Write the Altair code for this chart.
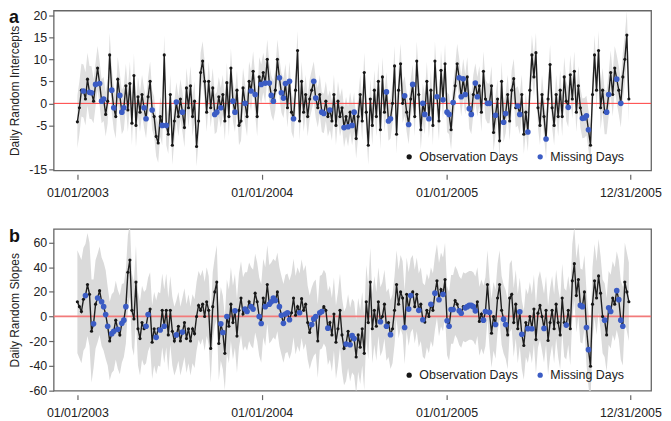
import altair as alt
import numpy as np
import pandas as pd

FONT = "Liberation Sans"
START = "2003-01-01"
STEP_DAYS = 4

# x-axis ticks (days since 01/01/2003) and their labels
tick_days = [0, 365, 731, 1095]
tick_labels = ["01/01/2003", "01/01/2004", "01/01/2005", "12/31/2005"]

# ---- panel a: daily random intercepts (one value every 4 days) ----
intercepts_p1 = [
    -4.2, -1.0, 3.0, 2.8, 1.0, 5.5, 2.5, 2.4, 0.5, 4.3,
    8.0, 4.5, 0.5, 1.0, -2.5, 0.5, 11.0, 3.0, -1.0, -3.0,
    5.5, 1.8, -2.0, -1.0, 4.0, -1.5, 4.5, -4.5, 6.3, -5.0,
    1.5, -2.0, 2.0, -1.0, -3.5, 1.5, 5.0, -1.5, -3.0, -7.5,
    -9.0, -3.0, -5.0, 11.0, -5.0, -7.0, 2.0, -9.5, -4.0, 0.3,
    -3.0, 1.0, -2.0, -5.5, 3.5, -1.0, 4.0, -3.0, 0.5, -9.8,
    -4.0, 7.0, 9.6, 5.0, -2.0, 5.0, -1.0, 3.5, -2.5, -2.0,
    1.5, -1.0, 2.0, -4.0, 4.7, -3.0, 8.0, 0.5, -2.0, 3.0,
    -5.0, -4.0, 3.5, 0.0, -3.0, 5.0, 2.8, 7.3, 2.0, -3.0,
]
intercepts_p2 = [
    6.0, 4.3, 7.0, 4.6, 10.0, 4.6, 1.8, 0.5, 3.0, 10.0,
    5.8, 2.4, 1.2, 4.5, -1.0, 5.0, -2.0, -3.5, 3.0, 12.0,
    -4.0, 5.0, -2.0, 2.0, -3.0, 1.0, 3.0, 5.0, 1.2, -1.0,
    2.0, -2.0, -2.3, 0.5, -3.0, -1.5, -4.0, 2.0, -5.0, 0.5,
    -3.0, -1.0, -5.5, -3.0, -5.3, -2.0, -5.0, -2.0, -8.0, -3.0,
    2.0, -4.0, 7.0, -2.0, -9.5, 1.0, -5.0, 3.0, -3.0, 5.0,
    -6.0, 6.0, -2.0, 2.6, -4.0, -3.5, 0.0, 8.5, -7.0, 3.0,
    9.0, 0.0, 1.7, -2.0, -4.8, 1.0, 4.3, -3.0, 9.6, 2.0,
    -6.0, 0.0, -2.5, 5.0, -3.5, 3.0, -5.0, 9.6, 1.5, -4.0,
]
intercepts_p3 = [
    7.5, 0.8, 9.0, -2.0, -2.5, -6.0, 0.2, 4.0, 9.0, 5.8,
    1.5, 5.6, 2.0, 6.0, -1.2, -2.5, 2.0, 4.6, 1.5, 4.0,
    -2.0, 7.3, 1.0, 0.0, 0.0, 4.0, -6.6, -2.7, 1.0, -8.5,
    5.0, -4.3, -2.3, 2.0, -4.0, 3.0, 5.6, -1.0, -0.6, -2.5,
    2.0, -7.0, -2.0, -6.5, 3.0, 11.0, 6.0, 11.5, -1.0, -5.0,
    2.0, -3.0, -8.1, 1.0, 8.8, -1.0, -5.0, 2.0, -3.0, 3.0,
    -3.0, 6.0, 0.5, -0.9, 6.5, 1.0, 7.3, -2.0, 4.0, -1.0,
    -3.4, -3.3, -2.8, -6.0, -9.5, 2.0, 11.0, 3.0, 12.0, -1.0,
    3.0, -2.0, -2.0, 2.0, 7.0, 2.0, 8.0, 5.5, 3.0, 0.0,
    6.0, 10.0, 15.5, 1.0,
]
intercept_missing = [
    3, 6, 7, 9, 11, 12, 13, 17, 18, 21, 22, 23, 33, 34, 37, 42, 44, 49, 52,
    68, 69, 71, 77, 78, 83, 86, 88, 91, 93, 95, 96, 97, 100, 101, 102, 103,
    105, 107, 117, 118, 121, 122, 125, 132, 134, 136, 137, 153, 154, 155,
    162, 164, 166, 171, 172, 174, 178, 181, 183, 184, 186, 189, 190, 191,
    192, 194, 195, 197, 198, 203, 204, 207, 211, 212, 218, 219, 223, 232,
    243, 250, 251, 252, 253, 262, 263, 267, 269,
]
# monthly half-width of the grey interval (Jan 2003 .. Dec 2005)
intercept_halfwidth = [
    6, 5, 5, 5, 4.5, 4.5, 4.5, 4.5, 4.5, 4.5, 4.5, 4.5,
    4.5, 4.5, 4.5, 4.5, 4.5, 4.5, 4.5, 4.5, 4.5, 4.5, 4.5, 4.5,
    4.5, 4.5, 4.5, 4.5, 4.5, 4.5, 4.5, 4.5, 4.5, 4.5, 5, 5.5,
]

# ---- panel b: daily random slopes ----
slopes_p1 = [
    12, 8, 4, 14, 17, 26, 18, -12, -6, 10,
    15, 21, 12, 8, 1.6, -8, -20, -14, -12, -3,
    -10.5, -15, -5.6, -3, 8, 36, 46, 5, -2, 28,
    -10, -18, -5, -10, -8, 1.6, 6, -21, -10, -17,
    -10, -11, 5, -8, 5, -15, 5, -12, -20, -15,
    -8, -20, -12.7, -5, -18, -10, -20, -10, -14, 0,
    9, 5, 10, 0, 12, 5, -26, 8, 20, 28,
    -22, -6, -13, -30, 0, -8, 10, -5, 4.6, -16,
    5, 15, 2, 6, 4, 12, 8, 6, 19, 12,
]
slopes_p2 = [
    0, -5.7, 15, 8, 26, 10, 12, 15, 13, 20,
    8, 1, -5.6, 2, 3, -2.7, 3, 15, 1, 8,
    3, 14.5, 5, 10, -5, -13, -6.5, -2, 0, -20,
    3, 4, 8, 5, -9.5, -5, -15, 2, -21, -10,
    5, -15, -26, -22.5, -12, -23, -15.6, -18, -33, -15,
    -25, -10, -30, 12, -5, 28, -10, 5, -8, 12,
    -4.3, 0, 10, -8, -5, -14.8, -10, 5, 26, 10,
    20, 15, -9, 18, 6, 17, 20, 8, 18, 5,
    10, -2.7, -4.6, 5, 0, 10, 5, 19, 29, 13.6,
]
slopes_p3 = [
    22, 18, 30, -3.5, -8, 5.7, 5.7, 13, 10, 4.7,
    2.6, 8, 7, 8, 9, 9, 8, 4.6, 12, -4,
    2, -3, 4, 26, 3.4, -13.7, 0, -6.5, 15, 26,
    5, -2.2, -6.5, -15, 15, 18, -5, 10, -10, 3.8,
    -14.5, -23.6, -5, -9.9, 0, -10, 6, -18.8, 2.7, 9,
    0, -9.7, 5, -19.6, -5, 5, -10, 10, -5, -15,
    15, -5, -7, 5, -10, 29, 43, 17, 30, 9,
    8, 20, -9, -27, -40.5, 10, 29, 15, 33, 19,
    0, -3, -15, 7, 4, 15, 10, 21, 13.7, -3,
    -8, 28, 20, 12,
]
slope_missing = [
    4, 8, 10, 12, 13, 14, 15, 17, 18, 20, 22, 23, 24, 34, 35, 39, 41, 43,
    49, 52, 71, 72, 74, 78, 83, 84, 86, 87, 90, 91, 93, 95, 96, 97, 98,
    100, 101, 102, 103, 104, 105, 110, 116, 117, 118, 120, 121, 124, 133,
    135, 136, 137, 150, 153, 155, 162, 164, 165, 169, 171, 175, 177, 179,
    181, 183, 184, 185, 186, 189, 190, 192, 193, 194, 195, 196, 197, 201,
    202, 204, 207, 211, 212, 219, 220, 223, 225, 231, 242, 249, 250, 252,
    253, 261, 263, 264, 267, 268, 269, 270,
]
slope_halfwidth = [
    42, 36, 32, 30, 30, 30, 28, 28, 28, 30, 30, 32,
    32, 32, 32, 30, 30, 30, 30, 28, 28, 30, 30, 30,
    28, 28, 28, 28, 28, 28, 28, 28, 30, 30, 30, 32,
]

STATUS = ["Observation Days", "Missing Days"]
COLORS = ["#161616", "#3b5cc4"]


def make_df(vals, missing, halfwidth):
    n = len(vals)
    days = np.arange(n) * STEP_DAYS
    dates = pd.Timestamp(START) + pd.to_timedelta(days, unit="D")
    month_idx = (dates.year - 2003) * 12 + dates.month - 1
    h = np.array(halfwidth, dtype=float)[month_idx]
    v = np.array(vals, dtype=float)
    is_missing = np.isin(np.arange(n), missing)
    return pd.DataFrame({
        "day": days,
        "value": v,
        "lower": v - h,
        "upper": v + h,
        "status": np.where(is_missing, STATUS[1], STATUS[0]),
        "z": is_missing.astype(int),
    })


x_label_expr = " : ".join(
    f"datum.value == {d} ? '{l}'" for d, l in zip(tick_days, tick_labels)
) + " : ''"


def panel(df, letter, title, ydomain, yvals, height, band_color, rule_color,
          rule_width, legend_y):
    yscale = alt.Scale(domain=ydomain, nice=False, zero=False)
    yaxis = alt.Axis(values=yvals, title=title, titlePadding=7,
                     labelExpr="'' + datum.value", labelPadding=2)
    xenc = alt.X("day:Q", scale=alt.Scale(domain=[-47, 1136], nice=False, zero=False),
                 axis=alt.Axis(values=tick_days, labelExpr=x_label_expr, title=None,
                               offset=4, labelPadding=7))
    base = alt.Chart(df)
    band = base.mark_area(color=band_color, clip=True).encode(
        x=xenc, y=alt.Y("lower:Q", scale=yscale, axis=yaxis), y2="upper:Q")
    zero = alt.Chart(pd.DataFrame({"y": [0]})).mark_rule(
        color=rule_color, strokeWidth=rule_width).encode(
        y=alt.Y("y:Q", scale=yscale, axis=yaxis))
    line = base.mark_line(color="#1e1e1e", strokeWidth=1.4, clip=True).encode(
        x=xenc, y=alt.Y("value:Q", scale=yscale, axis=yaxis))
    pts = base.mark_circle(opacity=1, clip=True).encode(
        x=xenc,
        y=alt.Y("value:Q", scale=yscale, axis=yaxis),
        color=alt.Color("status:N", scale=alt.Scale(domain=STATUS, range=COLORS),
                        legend=alt.Legend(title=None, orient="none", legendX=352,
                                          legendY=legend_y, direction="horizontal",
                                          labelFont=FONT, labelFontSize=12.5,
                                          labelColor="#222", symbolSize=28,
                                          symbolType="circle", labelOffset=4,
                                          columnPadding=16, padding=0)),
        size=alt.Size("z:Q", scale=alt.Scale(domain=[0, 1], range=[10, 32]), legend=None),
        order=alt.Order("z:Q"),
    )
    lab = alt.Chart(pd.DataFrame({"t": [letter]})).mark_text(
        align="left", baseline="top", fontSize=18, fontWeight="bold", font=FONT,
        color="#111").encode(x=alt.value(-45), y=alt.value(-1), text="t:N")
    return alt.layer(band, zero, line, pts, lab).properties(width=602, height=height)


df_a = make_df(intercepts_p1 + intercepts_p2 + intercepts_p3, intercept_missing, intercept_halfwidth)
df_b = make_df(slopes_p1 + slopes_p2 + slopes_p3, slope_missing, slope_halfwidth)

pa = panel(df_a, "a", "Daily Random Intercepts", [-15.2, 21.06],
           [-15, -5, 0, 5, 10, 15, 20], 161, "#dfdfdf", "#ff3b3b", 1.0, 141)
pb = panel(df_b, "b", "Daily Random Slopes", [-60.4, 71.3],
           [-60, -40, -20, 0, 20, 40, 60], 163, "#dadada", "#f27a7a", 1.8, 141)

chart = alt.vconcat(pa, pb, spacing=27).resolve_scale(
    color="independent", size="independent", x="independent", y="independent"
).resolve_legend(color="independent").properties(
    padding={"left": 0, "top": -1, "right": 0, "bottom": 0}
).configure_view(stroke="#666666", strokeWidth=1.3).configure_axis(
    domain=False, grid=False, tickColor="#666666", tickSize=5, tickWidth=1.2,
    labelFont=FONT, labelFontSize=12.5, labelColor="#222222",
    titleFont=FONT, titleFontSize=12, titleFontWeight="normal", titleColor="#222222",
)

chart.save("out.html", embed_options={"renderer": "svg", "actions": False})
